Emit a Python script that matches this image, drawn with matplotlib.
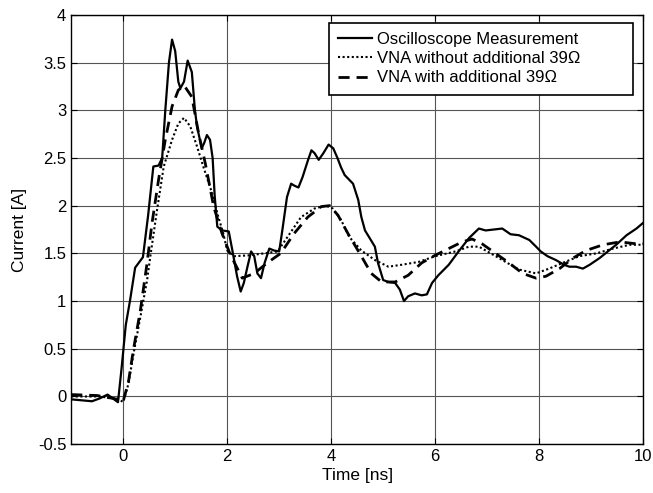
import numpy as np
import matplotlib.pyplot as plt
from matplotlib.ticker import FormatStrFormatter

plt.rcParams['font.family'] = ['Liberation Sans', 'DejaVu Sans']

# Oscilloscope measurement
t_osc = [-1.0, -0.8, -0.6, -0.45, -0.3, -0.2, -0.1, -0.03, 0.05, 0.13, 0.23, 0.38, 0.48, 0.58,
         0.68, 0.75, 0.81, 0.88, 0.94, 1.0, 1.06, 1.1, 1.17, 1.24, 1.32, 1.38, 1.42, 1.51, 1.56,
         1.61, 1.67, 1.72, 1.76, 1.81, 1.9, 2.03, 2.1, 2.19, 2.26, 2.32, 2.39, 2.46, 2.52, 2.58,
         2.65, 2.72, 2.81, 2.9, 3.0, 3.06, 3.15, 3.23, 3.29, 3.37, 3.45, 3.55, 3.62, 3.68, 3.76,
         3.85, 3.95, 4.04, 4.12, 4.19, 4.26, 4.42, 4.52, 4.58, 4.65, 4.74, 4.84, 4.9, 5.0, 5.1,
         5.23, 5.32, 5.4, 5.48, 5.61, 5.74, 5.84, 5.94, 6.06, 6.26, 6.45, 6.65, 6.84, 6.97, 7.13,
         7.29, 7.45, 7.61, 7.81, 7.94, 8.03, 8.16, 8.32, 8.48, 8.58, 8.71, 8.84, 8.97, 9.16, 9.32,
         9.48, 9.68, 9.87, 10.0]
i_osc = [-0.03, -0.04, -0.05, -0.02, 0.02, -0.02, -0.06, 0.3, 0.75, 1.0, 1.35, 1.46, 1.9, 2.41,
         2.42, 2.5, 3.0, 3.5, 3.74, 3.62, 3.3, 3.23, 3.3, 3.52, 3.4, 3.0, 2.83, 2.6, 2.66,
         2.74, 2.69, 2.5, 2.1, 1.78, 1.74, 1.73, 1.53, 1.26, 1.1, 1.19, 1.36, 1.52, 1.47, 1.29,
         1.24, 1.4, 1.55, 1.53, 1.52, 1.74, 2.09, 2.23, 2.21, 2.19, 2.3, 2.47, 2.58, 2.55, 2.48,
         2.55, 2.64, 2.6, 2.5, 2.4, 2.32, 2.23, 2.06, 1.88, 1.74, 1.66, 1.57, 1.4, 1.22, 1.2,
         1.19, 1.12, 1.0, 1.05, 1.08, 1.06, 1.07, 1.19, 1.27, 1.38, 1.52, 1.66, 1.76, 1.74, 1.75,
         1.76, 1.7, 1.69, 1.64, 1.57, 1.52, 1.47, 1.43, 1.38, 1.36, 1.36, 1.34, 1.38, 1.45, 1.52,
         1.59, 1.69, 1.76, 1.82]

# VNA without additional 39 Ohm
t_nores = [-1.0, -0.5, -0.1, 0.0, 0.1, 0.2, 0.33, 0.46, 0.52, 0.65, 0.78, 0.94, 1.06, 1.17,
           1.29, 1.42, 1.54, 1.71, 1.83, 1.92, 2.0, 2.13, 2.45, 2.97, 3.42, 3.68, 3.9, 4.03,
           4.19, 4.35, 4.58, 4.84, 5.1, 5.35, 5.68, 6.0, 6.39, 6.65, 6.84, 6.97, 7.29, 7.61,
           7.94, 8.19, 8.45, 8.77, 9.1, 9.42, 9.74, 10.0]
i_nores = [0.0, 0.0, -0.02, -0.06, 0.13, 0.45, 0.83, 1.22, 1.46, 1.95, 2.41, 2.69, 2.86, 2.92,
           2.83, 2.62, 2.41, 2.13, 1.88, 1.72, 1.53, 1.47, 1.48, 1.52, 1.88, 1.97, 2.0, 1.97,
           1.85, 1.67, 1.53, 1.43, 1.36, 1.38, 1.41, 1.47, 1.52, 1.57, 1.57, 1.53, 1.43, 1.33,
           1.29, 1.34, 1.4, 1.47, 1.5, 1.55, 1.59, 1.59]

# VNA with additional 39 Ohm
t_res = [-1.0, -0.5, -0.1, 0.0, 0.1, 0.2, 0.33, 0.46, 0.55, 0.68, 0.81, 0.94, 1.06, 1.17, 1.32,
         1.45, 1.58, 1.74, 1.9, 2.05, 2.29, 2.52, 2.77, 3.03, 3.29, 3.55, 3.81, 3.97, 4.13,
         4.32, 4.58, 4.77, 4.97, 5.23, 5.48, 5.74, 6.0, 6.26, 6.52, 6.71, 6.9, 7.16, 7.42, 7.68,
         7.94, 8.13, 8.39, 8.65, 8.9, 9.23, 9.55, 9.87, 10.0]
i_res = [0.02, 0.01, -0.03, -0.05, 0.15, 0.5, 0.9, 1.4, 1.8, 2.27, 2.69, 3.04, 3.21, 3.26, 3.14,
         2.76, 2.44, 1.99, 1.71, 1.5, 1.24, 1.29, 1.4, 1.5, 1.71, 1.88, 1.99, 2.0, 1.9,
         1.71, 1.47, 1.29, 1.2, 1.2, 1.27, 1.4, 1.48, 1.55, 1.62, 1.65, 1.6, 1.5, 1.4, 1.29,
         1.24, 1.26, 1.34, 1.45, 1.53, 1.59, 1.62, 1.6, 1.6]

fig = plt.figure(figsize=(6.53, 4.93), dpi=100)
ax = fig.add_axes([0.109, 0.099, 0.876, 0.871])

ax.plot(t_osc, i_osc, color='black', lw=1.6, ls='-', label='Oscilloscope Measurement')
ax.plot(t_nores, i_nores, color='black', lw=1.5, ls=(0, (1, 1.2)),
        label='VNA without additional 39\u03a9')
ax.plot(t_res, i_res, color='black', lw=2.0, ls=(0, (4, 2.5)),
        label='VNA with additional 39\u03a9')

ax.set_xlim(-1, 10)
ax.set_ylim(-0.5, 4)
ax.set_xticks([0, 2, 4, 6, 8, 10])
ax.set_yticks(np.arange(-0.5, 4.01, 0.5))
ax.yaxis.set_major_formatter(FormatStrFormatter('%g'))
ax.tick_params(direction='in', top=True, right=True, labelsize=12, length=4)
ax.grid(True, color='#555555', lw=0.8)
for s in ax.spines.values():
    s.set_linewidth(1.0)

ax.set_xlabel('Time [ns]', fontsize=12.5, labelpad=3)
ax.set_ylabel('Current [A]', fontsize=12.5, labelpad=8)

leg = ax.legend(loc='upper left', bbox_to_anchor=(0.451, 0.5, 0.5315, 0.481), mode='expand',
                borderaxespad=0, fontsize=12, fancybox=False, framealpha=1,
                edgecolor='black', handlelength=2.0, borderpad=0.55, labelspacing=0.25,
                handletextpad=0.3)
leg.get_frame().set_linewidth(1.2)

fig.savefig('out.png', dpi=100)
